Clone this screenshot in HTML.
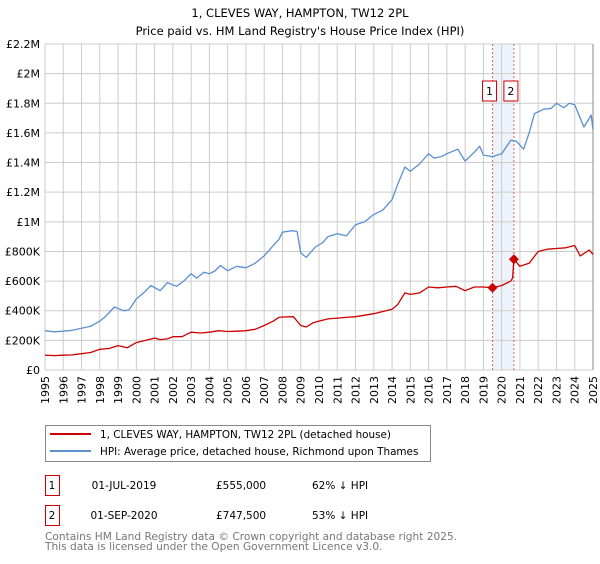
<!DOCTYPE html>
<html><head><meta charset="utf-8"><style>
body{margin:0;background:#fff;width:600px;height:560px;overflow:hidden;font-family:"DejaVu Sans","Liberation Sans",sans-serif}
svg text{font-family:"DejaVu Sans","Liberation Sans",sans-serif}
</style></head><body>
<svg id="c" width="600" height="560"></svg>
<script>
const yTicks=[0,200000,400000,600000,800000,1000000,1200000,1400000,1600000,1800000,2000000,2200000];
const yTickLabels=["£0","£200K","£400K","£600K","£800K","£1M","£1.2M","£1.4M","£1.6M","£1.8M","£2M","£2.2M"];
const xYears=[1995,1996,1997,1998,1999,2000,2001,2002,2003,2004,2005,2006,2007,2008,2009,2010,2011,2012,2013,2014,2015,2016,2017,2018,2019,2020,2021,2022,2023,2024,2025];
const hpiT=[1995,1995.5,1996,1996.5,1997,1997.5,1998,1998.3,1998.8,1999.3,1999.6,2000,2000.4,2000.8,2001.3,2001.7,2002.2,2002.6,2003,2003.3,2003.7,2004,2004.3,2004.6,2005,2005.5,2006,2006.5,2007,2007.5,2007.8,2008,2008.5,2008.8,2009,2009.3,2009.8,2010.2,2010.5,2011,2011.5,2012,2012.5,2013,2013.5,2014,2014.3,2014.7,2015,2015.5,2016,2016.3,2016.7,2017,2017.6,2018,2018.5,2018.8,2019,2019.5,2020,2020.5,2020.8,2021.2,2021.5,2021.8,2022.3,2022.7,2023,2023.4,2023.7,2024,2024.5,2024.9,2025];
const hpiV=[265000,258000,262000,268000,282000,295000,330000,360000,425000,400000,405000,480000,520000,570000,535000,590000,565000,600000,650000,620000,660000,650000,668000,705000,670000,700000,690000,720000,770000,840000,880000,930000,940000,935000,790000,760000,830000,860000,900000,920000,905000,980000,1000000,1050000,1080000,1150000,1250000,1370000,1340000,1390000,1460000,1430000,1440000,1460000,1490000,1410000,1470000,1510000,1450000,1440000,1460000,1550000,1545000,1490000,1600000,1730000,1760000,1765000,1800000,1770000,1800000,1790000,1640000,1720000,1620000];
const ppT=[1995,1995.5,1996,1996.5,1997,1997.5,1998,1998.5,1999,1999.5,2000,2000.5,2001,2001.3,2001.7,2002,2002.5,2003,2003.5,2004,2004.5,2005,2005.5,2006,2006.5,2007,2007.5,2007.8,2008,2008.6,2009,2009.3,2009.7,2010,2010.5,2011,2011.5,2012,2012.5,2013,2013.5,2014,2014.3,2014.7,2015,2015.5,2016,2016.5,2017,2017.5,2018,2018.5,2019,2019.5,2020,2020.5,2020.6,2020.67,2021,2021.5,2022,2022.5,2023,2023.5,2024,2024.3,2024.8,2025];
const ppV=[100000,97000,100000,102000,110000,118000,140000,145000,165000,150000,185000,200000,215000,205000,210000,225000,225000,255000,250000,255000,265000,260000,262000,265000,275000,300000,330000,355000,358000,360000,300000,290000,320000,330000,345000,350000,355000,360000,370000,380000,395000,410000,440000,520000,510000,520000,560000,555000,560000,565000,535000,560000,560000,555000,570000,600000,620000,747500,700000,720000,800000,815000,820000,825000,840000,770000,810000,780000];
const saleT=[2019.5,2020.67];
const saleV=[555000,747500];
const saleLabels=["1","2"];

const NS="http://www.w3.org/2000/svg",svg=document.getElementById('c');
const X0=45,X1=593,Y0=370,Y1=44;
const xs=t=>X0+(t-1995)/30*(X1-X0);
const ys=v=>Y0-v/2200000*(Y0-Y1);
function el(tag,a,parent){const e=document.createElementNS(NS,tag);for(const k in a)e.setAttribute(k,a[k]);(parent||svg).appendChild(e);return e;}
function txt(s,a){const e=el('text',a);e.textContent=s;return e;}

let t=txt("1, CLEVES WAY, HAMPTON, TW12 2PL",{x:300,y:17,'text-anchor':'middle','font-size':11.5,fill:'#000'});


t=txt("Price paid vs. HM Land Registry's House Price Index (HPI)",{x:300,y:35,'text-anchor':'middle','font-size':11.5,fill:'#000'});



let band=el('rect',{x:xs(saleT[0]),y:Y1,width:xs(saleT[1])-xs(saleT[0]),height:Y0-Y1,fill:'#eef3fb'});



yTicks.forEach((v,i)=>{
  const g=el('line',{x1:X0,x2:X1,y1:ys(v),y2:ys(v),stroke:'#cccccc','stroke-width':1});
  
  
  const l=txt(yTickLabels[i],{x:40,y:ys(v)+4,'text-anchor':'end','font-size':11,fill:'#000'});
  
  
});
xYears.forEach(yr=>{
  const g=el('line',{x1:xs(yr),x2:xs(yr),y1:Y1,y2:Y0,stroke:'#cccccc','stroke-width':1});
  
  
  const l=txt(String(yr),{x:0,y:0,transform:`translate(${xs(yr)+4},${Y0+34}) rotate(-90)`,'font-size':11,fill:'#000'});
  
  
});
let ax=el('line',{x1:X1,x2:X1,y1:Y1,y2:Y0,stroke:'#888','stroke-width':1});



saleT.forEach((s,i)=>{
  const d=el('line',{x1:xs(s),x2:xs(s),y1:Y1,y2:Y0,stroke:'#e06060','stroke-width':1,'stroke-dasharray':'2,2'});
  
  
});

function path(T,V,color,name){
  const d=T.map((tt,i)=>(i?'L':'M')+xs(tt).toFixed(1)+','+ys(V[i]).toFixed(1)).join('');
  const p=el('path',{d,fill:'none',stroke:color,'stroke-width':1.3,'stroke-linejoin':'round'});
  
  
}
path(hpiT,hpiV,'#5b8fd0','hpi-line');
path(ppT,ppV,'#cc0000','price-paid-line');

saleT.forEach((s,i)=>{
  const cx=xs(s),cy=ys(saleV[i]);
  const m=el('path',{d:`M${cx},${cy-5}L${cx+5},${cy}L${cx},${cy+5}L${cx-5},${cy}Z`,fill:'#cc0000'});
  
  
  const b=el('rect',{x:cx-10,y:81,width:14,height:20,fill:'#fff',stroke:'#cc0000','stroke-width':1});
  
  
  const l=txt(saleLabels[i],{x:cx-3,y:95,'text-anchor':'middle','font-size':11,fill:'#000'});
  
  
});

let lg=el('rect',{x:45.5,y:425.5,width:385,height:36,fill:'#fff',stroke:'#888'});


let ll=el('line',{x1:50,x2:91,y1:434,y2:434,stroke:'#cc0000','stroke-width':2});


t=txt("1, CLEVES WAY, HAMPTON, TW12 2PL (detached house)",{x:100,y:438,'font-size':10.4,fill:'#000'});


ll=el('line',{x1:50,x2:91,y1:451,y2:451,stroke:'#5b8fd0','stroke-width':2});


t=txt("HPI: Average price, detached house, Richmond upon Thames",{x:100,y:455,'font-size':10.4,fill:'#000'});



const rows=[["1","01-JUL-2019","£555,000","62% ↓ HPI",475],["2","01-SEP-2020","£747,500","53% ↓ HPI",505]];
rows.forEach(r=>{
  const b=el('rect',{x:45.5,y:r[4]+0.5,width:14,height:20,fill:'#fff',stroke:'#cc0000'});
  
  
  let c=txt(r[0],{x:52,y:r[4]+14,'text-anchor':'middle','font-size':10.5,fill:'#000'});
  
  
  c=txt(r[1],{x:124,y:r[4]+14,'text-anchor':'middle','font-size':10.5,fill:'#000'});
  
  
  c=txt(r[2],{x:216,y:r[4]+14,'font-size':10.5,fill:'#000'});
  
  
  c=txt(r[3],{x:312,y:r[4]+14,'font-size':10.5,fill:'#000'});
  
  
});
t=txt("Contains HM Land Registry data © Crown copyright and database right 2025.",{x:45,y:540,'font-size':10.6,fill:'#777'});


t=txt("This data is licensed under the Open Government Licence v3.0.",{x:45,y:550,'font-size':10.6,fill:'#777'});


</script>
</body></html>
